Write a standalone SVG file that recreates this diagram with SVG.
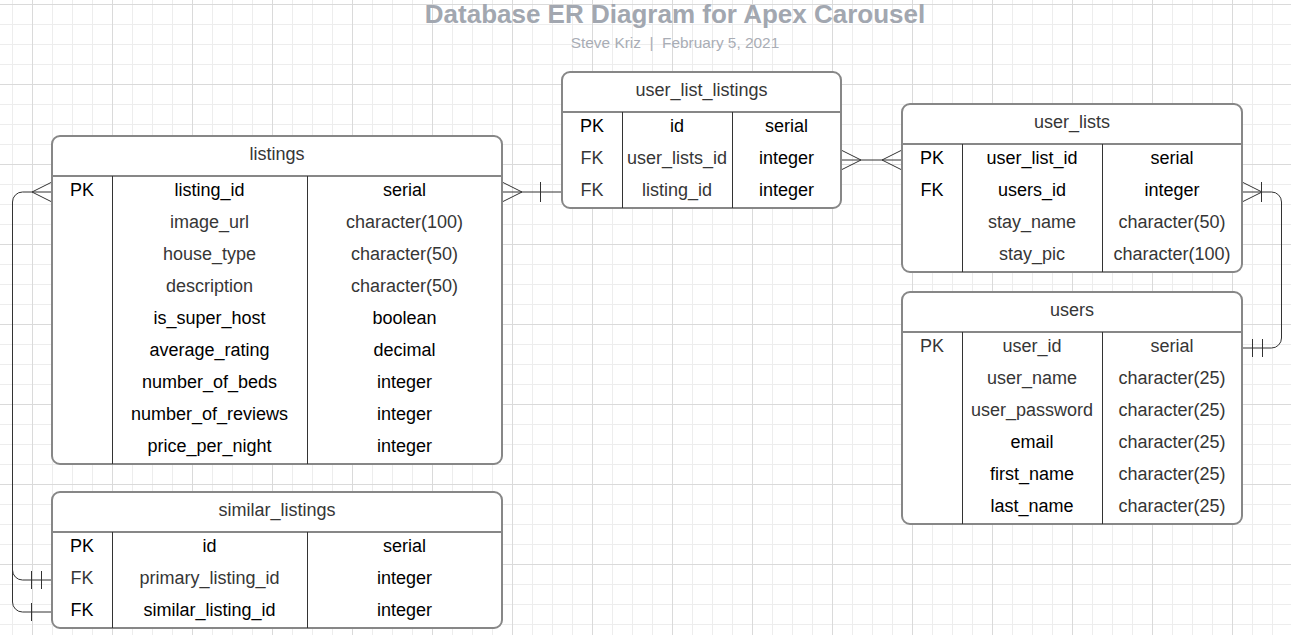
<svg xmlns="http://www.w3.org/2000/svg" width="1291" height="635" viewBox="0 0 1291 635">
  <defs>
    <pattern id="gridMinor" patternUnits="userSpaceOnUse" x="12" y="4" width="20" height="20">
      <path d="M0.5,0 V20 M0,0.5 H20" stroke="#ededed" stroke-width="1" fill="none"/>
    </pattern>
    <pattern id="gridMajor" patternUnits="userSpaceOnUse" x="32" y="4" width="80" height="80">
      <path d="M0.5,0 V80 M0,0.5 H80" stroke="#dadada" stroke-width="1" fill="none"/>
    </pattern>
  </defs>
  <style>
    text { font-family: "Liberation Sans", Arial, sans-serif; font-size: 18px; text-anchor: middle; }
    .k { fill: #000000; }
    .g { fill: #363636; }
    .box { fill: #ffffff; stroke: #878787; stroke-width: 2; }
    .hdr { stroke: #878787; stroke-width: 2; fill: none; }
    .col { stroke: #333333; stroke-width: 1; fill: none; }
    .conn path { stroke: #333333; stroke-width: 1; fill: none; }
    .title { font-size: 26px; font-weight: bold; fill: #a2a7b0; }
    .sub { font-size: 15.4px; fill: #a9adb5; white-space: pre; }
  </style>

  <!-- background grid -->
  <rect width="1291" height="635" fill="#ffffff"/>
  <rect width="1291" height="635" fill="url(#gridMinor)"/>
  <rect width="1291" height="635" fill="url(#gridMajor)"/>

  <!-- heading -->
  <g id="heading">
    <text class="title" x="675" y="23">Database ER Diagram for Apex Carousel</text>
    <text class="sub" x="675" y="48" xml:space="preserve">Steve Kriz  |  February 5, 2021</text>
  </g>

  <!-- relationship lines -->
  <g id="connectors" class="conn">
    <!-- listings.listing_id to similar_listings FKs -->
    <path d="M52,192 H22.5 A10,10 0 0 0 12.5,202 V570 A10,10 0 0 0 22.5,580 H52"/>
    <path d="M12.5,570 V602 A10,10 0 0 0 22.5,612 H52"/>
    <path d="M52,182 L32,192 L52,202"/>
    <path d="M31.5,571 V589 M41.5,571 V589"/>
    <path d="M31.5,603 V621"/>
    <!-- listings to user_list_listings.listing_id -->
    <path d="M502,192 H562"/>
    <path d="M502,182 L522,192 L502,202"/>
    <path d="M540.5,182 V202"/>
    <!-- user_list_listings.user_lists_id to user_lists -->
    <path d="M841,160 H902"/>
    <path d="M841,150 L861,160 L841,170"/>
    <path d="M902,150 L882,160 L902,170"/>
    <!-- user_lists.users_id to users.user_id -->
    <path d="M1242,192 H1271.5 A10,10 0 0 1 1281.5,202 V338 A10,10 0 0 1 1271.5,348 H1242"/>
    <path d="M1242,182 L1262,192 L1242,202"/>
    <path d="M1261.5,182 V202"/>
    <path d="M1252.5,339 V357 M1262.5,339 V357"/>
  </g>

  <!-- listings -->
  <g id="listings">
    <rect class="box" x="52" y="136" width="450" height="328" rx="8"/>
    <path class="hdr" d="M52,176 H502"/>
    <path class="col" d="M112.5,176 V464 M307.5,176 V464"/>
    <text class="g" x="277" y="160">listings</text>
    <text class="k" x="82" y="196">PK</text>
    <text class="k" x="209.5" y="196">listing_id</text>
    <text class="k" x="404.5" y="196">serial</text>
    <text class="g" x="209.5" y="228">image_url</text>
    <text class="g" x="404.5" y="228">character(100)</text>
    <text class="g" x="209.5" y="260">house_type</text>
    <text class="g" x="404.5" y="260">character(50)</text>
    <text class="g" x="209.5" y="292">description</text>
    <text class="g" x="404.5" y="292">character(50)</text>
    <text class="k" x="209.5" y="324">is_super_host</text>
    <text class="k" x="404.5" y="324">boolean</text>
    <text class="k" x="209.5" y="356">average_rating</text>
    <text class="k" x="404.5" y="356">decimal</text>
    <text class="k" x="209.5" y="388">number_of_beds</text>
    <text class="k" x="404.5" y="388">integer</text>
    <text class="k" x="209.5" y="420">number_of_reviews</text>
    <text class="k" x="404.5" y="420">integer</text>
    <text class="k" x="209.5" y="452">price_per_night</text>
    <text class="k" x="404.5" y="452">integer</text>
  </g>

  <!-- similar_listings -->
  <g id="similar_listings">
    <rect class="box" x="52" y="492" width="450" height="136" rx="8"/>
    <path class="hdr" d="M52,532 H502"/>
    <path class="col" d="M112.5,532 V628 M307.5,532 V628"/>
    <text class="g" x="277" y="516">similar_listings</text>
    <text class="k" x="82" y="552">PK</text>
    <text class="k" x="209.5" y="552">id</text>
    <text class="k" x="404.5" y="552">serial</text>
    <text class="g" x="82" y="584">FK</text>
    <text class="g" x="209.5" y="584">primary_listing_id</text>
    <text class="k" x="404.5" y="584">integer</text>
    <text class="k" x="82" y="616">FK</text>
    <text class="k" x="209.5" y="616">similar_listing_id</text>
    <text class="k" x="404.5" y="616">integer</text>
  </g>

  <!-- user_list_listings -->
  <g id="user_list_listings">
    <rect class="box" x="562" y="72" width="279" height="136" rx="8"/>
    <path class="hdr" d="M562,112 H841"/>
    <path class="col" d="M622.5,112 V208 M732.5,112 V208"/>
    <text class="g" x="701.5" y="96">user_list_listings</text>
    <text class="k" x="592" y="132">PK</text>
    <text class="k" x="677" y="132">id</text>
    <text class="k" x="786.5" y="132">serial</text>
    <text class="g" x="592" y="164">FK</text>
    <text class="g" x="677" y="164">user_lists_id</text>
    <text class="k" x="786.5" y="164">integer</text>
    <text class="g" x="592" y="196">FK</text>
    <text class="g" x="677" y="196">listing_id</text>
    <text class="k" x="786.5" y="196">integer</text>
  </g>

  <!-- user_lists -->
  <g id="user_lists">
    <rect class="box" x="902" y="104" width="340" height="168" rx="8"/>
    <path class="hdr" d="M902,144 H1242"/>
    <path class="col" d="M962.5,144 V272 M1102.5,144 V272"/>
    <text class="g" x="1072" y="128">user_lists</text>
    <text class="k" x="932" y="164">PK</text>
    <text class="k" x="1032" y="164">user_list_id</text>
    <text class="k" x="1172" y="164">serial</text>
    <text class="k" x="932" y="196">FK</text>
    <text class="k" x="1032" y="196">users_id</text>
    <text class="k" x="1172" y="196">integer</text>
    <text class="g" x="1032" y="228">stay_name</text>
    <text class="g" x="1172" y="228">character(50)</text>
    <text class="g" x="1032" y="260">stay_pic</text>
    <text class="g" x="1172" y="260">character(100)</text>
  </g>

  <!-- users -->
  <g id="users">
    <rect class="box" x="902" y="292" width="340" height="232" rx="8"/>
    <path class="hdr" d="M902,332 H1242"/>
    <path class="col" d="M962.5,332 V524 M1102.5,332 V524"/>
    <text class="g" x="1072" y="316">users</text>
    <text class="g" x="932" y="352">PK</text>
    <text class="g" x="1032" y="352">user_id</text>
    <text class="g" x="1172" y="352">serial</text>
    <text class="g" x="1032" y="384">user_name</text>
    <text class="g" x="1172" y="384">character(25)</text>
    <text class="g" x="1032" y="416">user_password</text>
    <text class="g" x="1172" y="416">character(25)</text>
    <text class="k" x="1032" y="448">email</text>
    <text class="g" x="1172" y="448">character(25)</text>
    <text class="k" x="1032" y="480">first_name</text>
    <text class="g" x="1172" y="480">character(25)</text>
    <text class="k" x="1032" y="512">last_name</text>
    <text class="g" x="1172" y="512">character(25)</text>
  </g>
</svg>
